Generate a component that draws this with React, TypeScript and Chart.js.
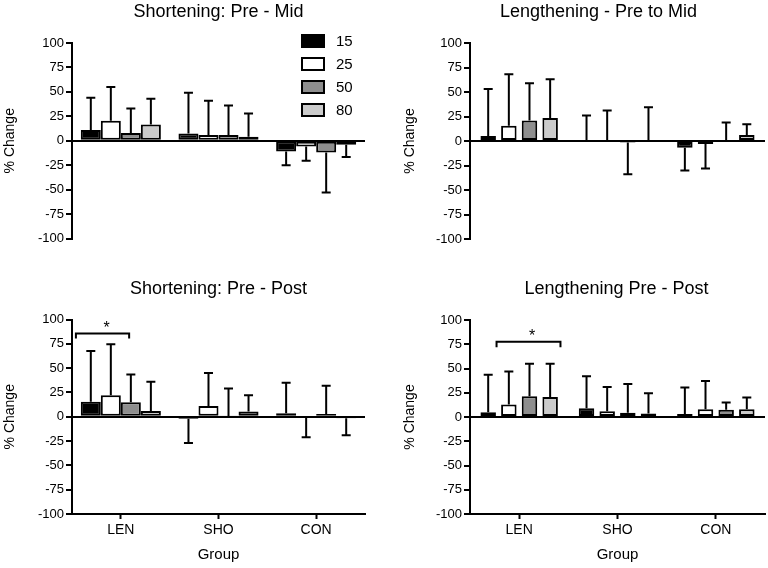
import React, { useEffect, useRef } from 'react';
import { Chart, registerables } from 'chart.js';

Chart.register(...registerables);

const FONT = "'Liberation Sans', Arial, Helvetica, sans-serif";

// ---------- data ----------
const groups = ['LEN', 'SHO', 'CON'];
const seriesNames = ['15', '25', '50', '80'];
const seriesColors = ['#000000', '#ffffff', '#8e8e8e', '#cbcbcb'];
const yMin = -100;
const yMax = 100;
const yStep = 25;

// Shortening: Pre - Mid   (rows = series 15,25,50,80 ; cols = LEN,SHO,CON)
const shortMidMeans = [
  [11, 7.5, -11],
  [20.5, 6, -6],
  [8, 6, -12],
  [16.5, 4, -4],
];
const shortMidSD = [
  [33, 41.5, 14],
  [34.5, 35, 14.5],
  [25, 30, 41],
  [26.5, 24, 12.5],
];

// Lengthening - Pre to Mid
const lengMidMeans = [
  [5, 1, -7],
  [15.5, 1, -3],
  [21, -1.5, 0.5],
  [23.5, 1, 6],
];
const lengMidSD = [
  [48, 25, 23],
  [52.5, 30, 25],
  [38, 32.5, 18.5],
  [39.5, 33.5, 11],
];

// Shortening: Pre - Post
const shortPostMeans = [
  [15.5, -2, 3.5],
  [22, 11, -1],
  [15, 0.3, 2.7],
  [6, 5.5, -1.5],
];
const shortPostSD = [
  [52, 25, 31.5],
  [52.5, 34, 20],
  [28.5, 28.7, 29.3],
  [30, 16.5, 17.5],
];

// Lengthening Pre - Post
const lengPostMeans = [
  [5, 9, 3],
  [13, 6, 8],
  [21.5, 4.5, 7.5],
  [20.5, 3.5, 8],
];
const lengPostSD = [
  [38.5, 33, 27.5],
  [34, 25, 29],
  [33.5, 29.5, 7.5],
  [34.5, 21, 12],
];

// significance brackets: group index, value level, label
const shortPostSig = { group: 0, value: 85.5, label: '*' };
const lengPostSig = { group: 0, value: 77.5, label: '*' };

// ---------- plugin ----------
type PanelCfg = {
  title: string;
  titleDx: number;
  titleBaseline: number;
  means: number[][];
  sds: number[][];
  showX: boolean;
  legend: boolean;
  bracket?: { group: number; value: number; label: string; from: number; to: number; drop: number; starDx: number };
  padding: { left: number; right: number; top: number; bottom: number };
  yWidth: number;
  catPct: number;
  barPct: number;
};

function makeExtras(p: PanelCfg) {
  return {
    id: 'panelExtras',
    afterDatasetsDraw(chart: any) {
      const ctx = chart.ctx;
      const ys = chart.scales.y;
      ctx.save();
      ctx.strokeStyle = '#000';
      ctx.lineWidth = 2;
      ctx.lineCap = 'butt';
      chart.data.datasets.forEach((ds: any, i: number) => {
        const meta = chart.getDatasetMeta(i);
        meta.data.forEach((el: any, j: number) => {
          const m = ds.data[j];
          const sd = p.sds[i][j];
          const end = m >= 0 ? m + sd : m - sd;
          const y0 = ys.getPixelForValue(m);
          const y1 = ys.getPixelForValue(end);
          const x = el.x;
          ctx.beginPath();
          ctx.moveTo(x, y0);
          ctx.lineTo(x, y1);
          ctx.moveTo(x - 4.5, y1);
          ctx.lineTo(x + 4.5, y1);
          ctx.stroke();
        });
      });
      ctx.restore();
    },
    afterDraw(chart: any) {
      const ctx = chart.ctx;
      const ca = chart.chartArea;
      ctx.save();
      // title
      ctx.fillStyle = '#000';
      ctx.font = `18px ${FONT}`;
      ctx.textAlign = 'center';
      ctx.textBaseline = 'alphabetic';
      ctx.fillText(p.title, (ca.left + ca.right) / 2 + p.titleDx, p.titleBaseline);

      // legend
      if (p.legend) {
        const bx = ca.right - 64;
        const by0 = ca.top - 9;
        chart.data.datasets.forEach((ds: any, i: number) => {
          const y = by0 + i * 23;
          ctx.fillStyle = ds.backgroundColor;
          ctx.fillRect(bx, y, 24, 14);
          ctx.strokeStyle = '#000';
          ctx.lineWidth = 2;
          ctx.strokeRect(bx + 1, y + 1, 22, 12);
          ctx.fillStyle = '#000';
          ctx.font = `15px ${FONT}`;
          ctx.textAlign = 'left';
          ctx.textBaseline = 'middle';
          ctx.fillText(ds.label, bx + 35, y + 7.5);
        });
      }

      // significance bracket
      if (p.bracket) {
        const b = p.bracket;
        const xs = chart.scales.x;
        const ys = chart.scales.y;
        const cw = xs.getPixelForValue(1) - xs.getPixelForValue(0);
        const cx = xs.getPixelForValue(b.group);
        const x1 = cx + b.from * cw;
        const x2 = cx + b.to * cw;
        const yb = ys.getPixelForValue(b.value);
        const ye = ys.getPixelForValue(b.value - b.drop);
        ctx.strokeStyle = '#000';
        ctx.lineWidth = 2;
        ctx.beginPath();
        ctx.moveTo(x1, ye);
        ctx.lineTo(x1, yb);
        ctx.lineTo(x2, yb);
        ctx.lineTo(x2, ye);
        ctx.stroke();
        ctx.fillStyle = '#000';
        ctx.font = `16px ${FONT}`;
        ctx.textAlign = 'center';
        ctx.textBaseline = 'alphabetic';
        ctx.fillText(b.label, (x1 + x2) / 2 + b.starDx, yb - 1);
      }
      ctx.restore();
    },
  };
}

function Panel({ cfg, left, top, width, height }: { cfg: PanelCfg; left: number; top: number; width: number; height: number }) {
  const ref = useRef<HTMLCanvasElement | null>(null);
  useEffect(() => {
    if (!ref.current) return;
    const chart = new Chart(ref.current, {
      type: 'bar',
      data: {
        labels: groups,
        datasets: seriesNames.map((name, i) => ({
          label: name,
          data: cfg.means[i],
          backgroundColor: seriesColors[i],
          borderColor: '#000',
          borderWidth: 2,
          borderSkipped: false,
          categoryPercentage: cfg.catPct,
          barPercentage: cfg.barPct,
        })),
      },
      options: {
        responsive: false,
        animation: false,
        devicePixelRatio: 1,
        layout: { padding: cfg.padding },
        plugins: {
          legend: { display: false },
          title: { display: false },
          tooltip: { enabled: false },
        },
        scales: {
          x: {
            display: cfg.showX,
            grid: {
              display: true,
              drawOnChartArea: false,
              drawTicks: true,
              tickLength: 5,
              tickColor: '#000',
              tickWidth: 2,
              offset: false,
            },
            border: { display: true, color: '#000', width: 2 },
            ticks: { color: '#000', font: { size: 14, family: FONT }, padding: 3 },
            title: { display: true, text: 'Group', color: '#000', font: { size: 15, family: FONT }, padding: 0 },
            afterFit: (s: any) => {
              s.height = cfg.showX ? 50 : 0;
            },
          },
          y: {
            min: yMin,
            max: yMax,
            ticks: { stepSize: yStep, autoSkip: false, color: '#000', font: { size: 13, family: FONT }, padding: 2 },
            grid: {
              color: (c: any) => (c.tick && c.tick.value === 0 ? '#000' : 'rgba(0,0,0,0)'),
              lineWidth: 2,
              tickColor: '#000',
              tickLength: 6,
              tickWidth: 2,
            },
            border: { display: true, color: '#000', width: 2 },
            title: { display: true, text: '% Change', color: '#000', font: { size: 14, family: FONT }, padding: { top: 2, bottom: 0 } },
            afterFit: (s: any) => {
              s.width = cfg.yWidth;
            },
          },
        },
      } as any,
      plugins: [makeExtras(cfg)],
    });
    return () => chart.destroy();
  }, [cfg]);
  return (
    <canvas
      ref={ref}
      width={width}
      height={height}
      style={{ position: 'absolute', left, top, width, height }}
    />
  );
}

const leftBar = { catPct: 0.82, barPct: 1.0 };
const rightBar = { catPct: 0.84, barPct: 0.75 };

const panelTL: PanelCfg = {
  title: 'Shortening: Pre - Mid',
  titleDx: 0,
  titleBaseline: 17,
  means: shortMidMeans,
  sds: shortMidSD,
  showX: false,
  legend: true,
  padding: { left: 0, right: 19, top: 43, bottom: 31.5 },
  yWidth: 72,
  ...leftBar,
};
const panelTR: PanelCfg = {
  title: 'Lengthening - Pre to Mid',
  titleDx: -19,
  titleBaseline: 17,
  means: lengMidMeans,
  sds: lengMidSD,
  showX: false,
  legend: false,
  padding: { left: 16, right: 3, top: 43, bottom: 31 },
  yWidth: 70,
  ...rightBar,
};
const panelBL: PanelCfg = {
  title: 'Shortening: Pre - Post',
  titleDx: 0,
  titleBaseline: 24,
  means: shortPostMeans,
  sds: shortPostSD,
  showX: true,
  legend: false,
  bracket: { ...shortPostSig, from: -0.46, to: 0.085, drop: 5, starDx: 4 },
  padding: { left: 0, right: 19, top: 49.5, bottom: 4 },
  yWidth: 72,
  ...leftBar,
};
const panelBR: PanelCfg = {
  title: 'Lengthening Pre - Post',
  titleDx: -1,
  titleBaseline: 24,
  means: lengPostMeans,
  sds: lengPostSD,
  showX: true,
  legend: false,
  bracket: { ...lengPostSig, from: -0.23, to: 0.42, drop: 5.5, starDx: 3.5 },
  padding: { left: 16, right: 3, top: 50, bottom: 4 },
  yWidth: 70,
  ...rightBar,
};

export default function App() {
  return (
    <div
      style={{
        position: 'absolute',
        left: 0,
        top: 0,
        width: 768,
        height: 568,
        overflow: 'hidden',
        background: '#fff',
      }}
    >
      <Panel cfg={panelTL} left={0} top={0} width={384} height={270} />
      <Panel cfg={panelTR} left={384} top={0} width={384} height={270} />
      <Panel cfg={panelBL} left={0} top={270} width={384} height={298} />
      <Panel cfg={panelBR} left={384} top={270} width={384} height={298} />
    </div>
  );
}
